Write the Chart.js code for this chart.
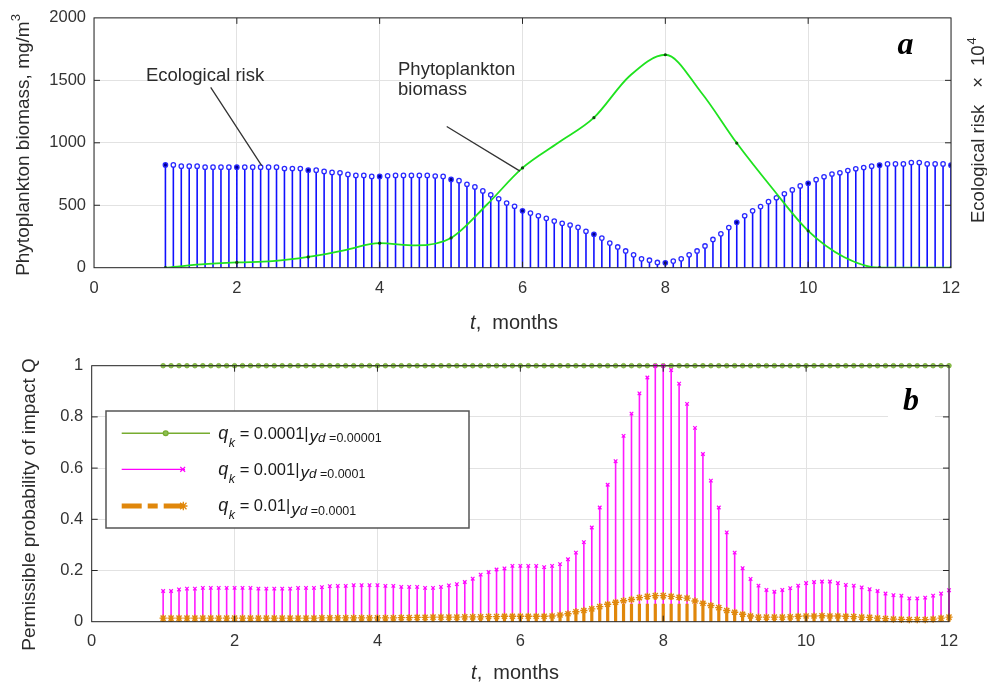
<!DOCTYPE html>
<html>
<head>
<meta charset="utf-8">
<title>Phytoplankton biomass and permissible probability of impact</title>
<script src="https://cdn.jsdelivr.net/npm/chart.js@4.4.1/dist/chart.umd.min.js"></script>
<style>
  html, body { margin: 0; padding: 0; background: #fff; }
  #wrap { position: relative; width: 987px; height: 683px; overflow: hidden; }
  .box { position: absolute; left: 0; width: 987px; }
  #boxA { top: 0; height: 340px; }
  #boxB { top: 340px; height: 343px; }
</style>
</head>
<body>
<div id="wrap">
  <div class="box" id="boxA"><canvas id="chartA"></canvas></div>
  <div class="box" id="boxB"><canvas id="chartB"></canvas></div>
</div>
<script>
// sampling grid of both panels: 100 points from month 1 to month 12
const months = Array.from({ length: 100 }, (_, i) => 1 + i / 9);

const xTicks = [0, 2, 4, 6, 8, 10, 12];
const yTicksA = [0, 500, 1000, 1500, 2000];
const yTicksB = [0, 0.2, 0.4, 0.6, 0.8, 1];

// panel a: phytoplankton biomass (mg/m3), read at half months
const bioMonths = [1, 1.5, 2, 2.5, 3, 3.5, 4, 4.5, 5, 5.5, 6, 6.5, 7, 7.5, 8, 8.5, 9, 9.5, 10, 10.5, 11, 11.5, 12];
const bioValues = [0, 26, 42, 52, 86, 139, 196, 178, 238, 504, 799, 1000, 1201, 1535, 1705, 1405, 998, 634, 295, 86, 0, 0, 0];

// panel a: ecological risk x 10^4 (stems)
const riskValues = [
  823, 823, 813, 813, 813, 805, 805, 805, 805, 805,
  805, 805, 805, 805, 805, 794, 794, 794, 781, 781,
  771, 763, 760, 747, 739, 739, 731, 731, 736, 739,
  739, 739, 739, 739, 734, 731, 707, 697, 668, 647,
  615, 584, 552, 518, 492, 455, 437, 416, 395, 373,
  355, 342, 323, 292, 268, 237, 197, 166, 134, 103,
  71, 60, 42, 39, 53, 71, 103, 134, 174, 226,
  271, 321, 363, 416, 455, 489, 529, 560, 592, 623,
  655, 676, 705, 728, 750, 760, 778, 792, 802, 813,
  821, 831, 831, 831, 842, 842, 831, 831, 831, 821
];

// panel b: permissible probability of impact Q
const qHigh = [
  1, 1, 1, 1, 1, 1, 1, 1, 1, 1, 1, 1, 1, 1, 1, 1, 1, 1, 1, 1,
  1, 1, 1, 1, 1, 1, 1, 1, 1, 1, 1, 1, 1, 1, 1, 1, 1, 1, 1, 1,
  1, 1, 1, 1, 1, 1, 1, 1, 1, 1, 1, 1, 1, 1, 1, 1, 1, 1, 1, 1,
  1, 1, 1, 1, 1, 1, 1, 1, 1, 1, 1, 1, 1, 1, 1, 1, 1, 1, 1, 1,
  1, 1, 1, 1, 1, 1, 1, 1, 1, 1, 1, 1, 1, 1, 1, 1, 1, 1, 1, 1
];
const qMid = [
  0.120, 0.120, 0.126, 0.129, 0.129, 0.132, 0.132, 0.132, 0.132, 0.132,
  0.132, 0.132, 0.129, 0.129, 0.129, 0.129, 0.129, 0.132, 0.132, 0.132,
  0.135, 0.139, 0.140, 0.140, 0.143, 0.143, 0.143, 0.143, 0.140, 0.140,
  0.136, 0.136, 0.136, 0.132, 0.132, 0.136, 0.142, 0.147, 0.155, 0.168,
  0.184, 0.194, 0.204, 0.208, 0.218, 0.218, 0.218, 0.218, 0.213, 0.218,
  0.225, 0.244, 0.270, 0.311, 0.368, 0.446, 0.535, 0.627, 0.726, 0.813,
  0.892, 0.954, 1.000, 1.000, 0.983, 0.930, 0.851, 0.757, 0.655, 0.551,
  0.446, 0.349, 0.270, 0.209, 0.167, 0.141, 0.124, 0.117, 0.124, 0.131,
  0.141, 0.151, 0.155, 0.157, 0.157, 0.151, 0.144, 0.141, 0.134, 0.127,
  0.120, 0.110, 0.104, 0.102, 0.091, 0.091, 0.094, 0.102, 0.110, 0.123
];
const qLow = [
  0.014, 0.014, 0.014, 0.014, 0.014, 0.014, 0.014, 0.014, 0.014, 0.014,
  0.014, 0.014, 0.014, 0.014, 0.014, 0.014, 0.014, 0.014, 0.014, 0.014,
  0.015, 0.015, 0.015, 0.015, 0.015, 0.015, 0.015, 0.015, 0.015, 0.015,
  0.016, 0.016, 0.017, 0.017, 0.018, 0.018, 0.018, 0.018, 0.019, 0.019,
  0.019, 0.020, 0.020, 0.021, 0.021, 0.021, 0.021, 0.021, 0.021, 0.022,
  0.026, 0.031, 0.039, 0.044, 0.050, 0.059, 0.068, 0.076, 0.082, 0.087,
  0.094, 0.099, 0.102, 0.102, 0.099, 0.095, 0.092, 0.081, 0.072, 0.063,
  0.055, 0.044, 0.037, 0.029, 0.022, 0.018, 0.018, 0.018, 0.018, 0.019,
  0.021, 0.022, 0.022, 0.023, 0.022, 0.022, 0.021, 0.020, 0.018, 0.017,
  0.014, 0.012, 0.010, 0.009, 0.008, 0.008, 0.008, 0.010, 0.014, 0.018
];

const sans = "'Liberation Sans', Arial, Helvetica, sans-serif";
const serif = "'Liberation Serif', 'Times New Roman', serif";
const textColor = '#333333';
const gridColor = '#e2e2e2';

// stem plot as line segments 0 -> value, broken by a gap
function stemData(xs, ys) {
    const pts = [];
    xs.forEach((x, i) => {
        pts.push({ x: x, y: 0 }, { x: x, y: ys[i] }, { x: x, y: null });
    });
    return pts;
}

function tipOnly(r) {
    return ctx => (ctx.dataIndex % 3 === 1 ? r : 0);
}

function xAxis(height, pad) {
    return {
        type: 'linear', min: 0, max: 12,
        afterBuildTicks: s => { s.ticks = xTicks.map(v => ({ value: v })); },
        afterFit: s => { s.height = height; },
        grid: { color: gridColor, drawTicks: false },
        border: { display: false },
        ticks: { padding: pad, color: textColor, maxRotation: 0, autoSkip: false,
                 font: { family: sans, size: 16.5 }, callback: v => String(v) }
    };
}

function yAxis(ticks, width, pad) {
    return {
        type: 'linear', min: ticks[0], max: ticks[ticks.length - 1],
        afterBuildTicks: s => { s.ticks = ticks.map(v => ({ value: v })); },
        afterFit: s => { s.width = width; },
        grid: { color: gridColor, drawTicks: false },
        border: { display: false },
        ticks: { padding: pad, color: textColor, autoSkip: false,
                 font: { family: sans, size: 16.5 }, callback: v => String(v) }
    };
}

function drawFrame(ctx, area, xs, ys, yTicks) {
    ctx.save();
    ctx.strokeStyle = '#262626';
    ctx.lineWidth = 1;
    ctx.strokeRect(area.left, area.top, area.right - area.left, area.bottom - area.top);
    ctx.beginPath();
    xTicks.slice(1, -1).forEach(v => {
        const p = xs.getPixelForValue(v);
        ctx.moveTo(p, area.top); ctx.lineTo(p, area.top + 6);
        ctx.moveTo(p, area.bottom); ctx.lineTo(p, area.bottom - 6);
    });
    yTicks.slice(1, -1).forEach(v => {
        const p = ys.getPixelForValue(v);
        ctx.moveTo(area.left, p); ctx.lineTo(area.left + 6, p);
        ctx.moveTo(area.right, p); ctx.lineTo(area.right - 6, p);
    });
    ctx.stroke();
    ctx.restore();
}

// text made of pieces with their own font and baseline shift
function richWidth(ctx, parts) {
    let w = 0;
    parts.forEach(p => { ctx.font = p.font; w += ctx.measureText(p.t).width + (p.gap || 0); });
    return w;
}
function drawRich(ctx, x, y, parts) {
    parts.forEach(p => {
        ctx.font = p.font;
        ctx.fillText(p.t, x, y + (p.dy || 0));
        x += ctx.measureText(p.t).width + (p.gap || 0);
    });
}
function drawRotated(ctx, cx, cy, parts) {
    ctx.save();
    ctx.translate(cx, cy);
    ctx.rotate(-Math.PI / 2);
    ctx.textBaseline = 'middle';
    ctx.textAlign = 'left';
    drawRich(ctx, -richWidth(ctx, parts) / 2, 0, parts);
    ctx.restore();
}
function xTitle(ctx, cx, cy) {
    const parts = [
        { t: 't', font: 'italic 20px ' + sans },
        { t: ',  months', font: '20px ' + sans }
    ];
    ctx.textBaseline = 'middle';
    ctx.textAlign = 'left';
    drawRich(ctx, cx - richWidth(ctx, parts) / 2, cy, parts);
}

function marker(ctx, style, x, y, r, color, fill) {
    ctx.save();
    ctx.strokeStyle = color;
    ctx.fillStyle = fill;
    ctx.lineWidth = 1.3;
    ctx.setLineDash([]);
    ctx.beginPath();
    if (style === 'circle') {
        ctx.arc(x, y, r, 0, Math.PI * 2);
        ctx.fill();
    } else {
        ctx.moveTo(x - r, y - r); ctx.lineTo(x + r, y + r);
        ctx.moveTo(x + r, y - r); ctx.lineTo(x - r, y + r);
        if (style === 'star') {
            ctx.moveTo(x - r * 1.3, y); ctx.lineTo(x + r * 1.3, y);
            ctx.moveTo(x, y - r * 1.3); ctx.lineTo(x, y + r * 1.3);
        }
    }
    ctx.stroke();
    ctx.restore();
}

const decorA = {
    id: 'decorA',
    afterDraw(chart) {
        const ctx = chart.ctx;
        const xs = chart.scales.x, ys = chart.scales.y;
        drawFrame(ctx, chart.chartArea, xs, ys, yTicksA);

        ctx.save();
        ctx.fillStyle = '#2b2b2b';
        ctx.textBaseline = 'middle';
        ctx.textAlign = 'left';
        ctx.font = '18.5px ' + sans;
        ctx.fillText('Ecological risk', xs.getPixelForValue(0.728), ys.getPixelForValue(1532));
        ctx.fillText('Phytoplankton', xs.getPixelForValue(4.257), ys.getPixelForValue(1587));
        ctx.fillText('biomass', xs.getPixelForValue(4.257), ys.getPixelForValue(1423));

        ctx.strokeStyle = '#333333';
        ctx.lineWidth = 1.3;
        ctx.beginPath();
        ctx.moveTo(xs.getPixelForValue(1.634), ys.getPixelForValue(1444));
        ctx.lineTo(xs.getPixelForValue(2.348), ys.getPixelForValue(818));
        ctx.moveTo(xs.getPixelForValue(4.939), ys.getPixelForValue(1131));
        ctx.lineTo(xs.getPixelForValue(5.965), ys.getPixelForValue(773));
        ctx.stroke();

        // panel letter
        ctx.fillStyle = '#000';
        ctx.textAlign = 'center';
        ctx.textBaseline = 'alphabetic';
        ctx.font = 'bold italic 32px ' + serif;
        ctx.fillText('a', 905.5, 53.5);

        // axis titles
        ctx.fillStyle = '#2b2b2b';
        drawRotated(ctx, 23.5, 145, [
            { t: 'Phytoplankton biomass, mg/m', font: '19px ' + sans },
            { t: '3', font: '13px ' + sans, dy: -7 }
        ]);
        ctx.save();
        ctx.translate(979, 223);
        ctx.rotate(-Math.PI / 2);
        ctx.textBaseline = 'middle';
        ctx.textAlign = 'left';
        drawRich(ctx, 0, 0, [
            { t: 'Ecological risk', font: '18.5px ' + sans, gap: 17 },
            { t: '\u00d7', font: '18.5px ' + sans, gap: 11 },
            { t: '10', font: '18.5px ' + sans, gap: 1 },
            { t: '4', font: '13px ' + sans, dy: -7 }
        ]);
        ctx.restore();
        xTitle(ctx, 514, 323);
        ctx.restore();
    }
};

const decorB = {
    id: 'decorB',
    afterDraw(chart) {
        const ctx = chart.ctx;
        const xs = chart.scales.x, ys = chart.scales.y;
        ctx.save();
        // white patch behind the panel letter
        ctx.fillStyle = '#ffffff';
        ctx.fillRect(888, 44, 47, 38);
        ctx.restore();
        drawFrame(ctx, chart.chartArea, xs, ys, yTicksB);

        ctx.save();
        ctx.fillStyle = '#000';
        ctx.textAlign = 'center';
        ctx.textBaseline = 'alphabetic';
        ctx.font = 'bold italic 32px ' + serif;
        ctx.fillText('b', 911, 70);

        // legend
        const bx = 106, by = 71, bw = 363, bh = 117;
        ctx.fillStyle = '#ffffff';
        ctx.fillRect(bx, by, bw, bh);
        ctx.strokeStyle = '#555555';
        ctx.lineWidth = 1.5;
        ctx.strokeRect(bx, by, bw, bh);

        const rows = [
            { y: 93.3, x2: 210, color: '#77ac30', width: 1.5, dash: [], mk: 'circle', mx: 165.7, r: 2.4, fill: '#8cc152', qk: '0.0001', yd: '0.00001' },
            { y: 129.3, x2: 185, color: '#ff00ff', width: 1.3, dash: [], mk: 'crossRot', mx: 182.7, r: 2.4, fill: '#ff00ff', qk: '0.001', yd: '0.0001' },
            { y: 166, x2: 185, color: '#e0870b', width: 5, dash: [20, 6, 10, 6], mk: 'star', mx: 183.3, r: 3.2, fill: '#e0870b', qk: '0.01', yd: '0.0001' }
        ];
        rows.forEach(r => {
            ctx.save();
            ctx.strokeStyle = r.color;
            ctx.lineWidth = r.width;
            ctx.setLineDash(r.dash);
            ctx.beginPath();
            ctx.moveTo(121.7, r.y);
            ctx.lineTo(r.x2, r.y);
            ctx.stroke();
            ctx.restore();
            marker(ctx, r.mk, r.mx, r.y, r.r, r.color, r.fill);

            ctx.fillStyle = '#1a1a1a';
            ctx.textAlign = 'left';
            ctx.textBaseline = 'alphabetic';
            drawRich(ctx, 218.3, r.y + 5.3, [
                { t: 'q', font: 'italic 18px ' + sans, gap: 0.5 },
                { t: 'k', font: 'italic 12.5px ' + sans, dy: 8 },
                { t: ' = ' + r.qk + '|', font: '16.5px ' + sans, gap: 1 },
                { t: 'y', font: 'italic 17px ' + sans, dy: 3.4 },
                { t: 'd', font: 'italic 13.5px ' + sans, dy: 3.4 },
                { t: ' =' + r.yd, font: '12.5px ' + sans, dy: 3.4 }
            ]);
        });

        // axis titles
        ctx.fillStyle = '#2b2b2b';
        drawRotated(ctx, 30, 164.5, [
            { t: 'Permissible probability of impact Q', font: '19px ' + sans }
        ]);
        xTitle(ctx, 515, 333);
        ctx.restore();
    }
};

const common = {
    responsive: true,
    maintainAspectRatio: false,
    animation: false,
    devicePixelRatio: 1,
    events: [],
    plugins: { legend: { display: false }, tooltip: { enabled: false }, title: { display: false } }
};

new Chart(document.getElementById('chartA'), {
    type: 'line',
    data: {
        datasets: [
            {
                label: 'Phytoplankton biomass',
                data: bioMonths.map((m, i) => ({ x: m, y: bioValues[i] })),
                borderColor: '#1fe21f',
                borderWidth: 1.8,
                cubicInterpolationMode: 'monotone',
                pointRadius: ctx => (Number.isInteger(bioMonths[ctx.dataIndex]) ? 1.6 : 0),
                pointBackgroundColor: '#0b4f0b',
                pointBorderWidth: 0,
                order: 1
            },
            {
                label: 'Ecological risk',
                data: stemData(months, riskValues),
                borderColor: '#1010ff',
                borderWidth: 1.6,
                tension: 0,
                pointRadius: tipOnly(2.2),
                pointBorderColor: '#2a2aff',
                pointBorderWidth: 1.3,
                pointBackgroundColor: ctx => (((ctx.dataIndex - 1) / 3) % 9 === 0 ? '#00008b' : '#ffffff'),
                order: 2
            }
        ]
    },
    options: Object.assign({}, common, {
        layout: { padding: { top: 12.3, right: 36, left: 0, bottom: 0 } },
        scales: {
            x: xAxis(72.3, 10.5),
            y: yAxis(yTicksA, 94, 8)
        }
    }),
    plugins: [decorA]
});

new Chart(document.getElementById('chartB'), {
    type: 'line',
    data: {
        datasets: [
            {
                label: 'qk = 0.0001',
                data: months.map((m, i) => ({ x: m, y: qHigh[i] })),
                borderColor: '#77ac30',
                borderWidth: 1.5,
                tension: 0,
                pointRadius: 2.3,
                pointBackgroundColor: '#8cc152',
                pointBorderColor: '#77ac30',
                pointBorderWidth: 0.8,
                clip: false,
                order: 3
            },
            {
                label: 'qk = 0.001',
                data: stemData(months, qMid),
                borderColor: '#ff1aff',
                borderWidth: 1.6,
                tension: 0,
                pointStyle: 'crossRot',
                pointRadius: tipOnly(2.5),
                pointBorderColor: '#ff00ff',
                pointBorderWidth: 1.2,
                clip: false,
                order: 2
            },
            {
                label: 'qk = 0.01',
                data: stemData(months, qLow),
                borderColor: '#e0870b',
                borderWidth: 3.2,
                borderDash: [18, 4],
                tension: 0,
                pointStyle: 'star',
                pointRadius: tipOnly(3.6),
                pointBorderColor: '#e0870b',
                pointBorderWidth: 1.4,
                clip: false,
                order: 1
            }
        ]
    },
    options: Object.assign({}, common, {
        layout: { padding: { top: 25.7, right: 38, left: 0, bottom: 0 } },
        scales: {
            x: xAxis(61.3, 10),
            y: yAxis(yTicksB, 91.7, 8.5)
        }
    }),
    plugins: [decorB]
});
</script>
</body>
</html>
